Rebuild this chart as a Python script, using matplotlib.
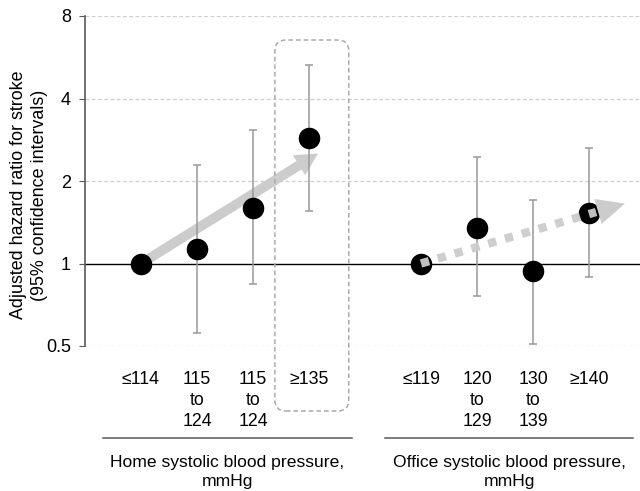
import matplotlib
matplotlib.use("Agg")
import matplotlib.pyplot as plt
from matplotlib.patches import FancyArrowPatch, FancyBboxPatch, Polygon
from matplotlib.transforms import IdentityTransform
from matplotlib.lines import Line2D

plt.rcParams['font.family'] = ['Liberation Sans', 'DejaVu Sans']

# Home systolic blood pressure categories
home_labels = ["≤114", "115\nto\n124", "115\nto\n124", "≥135"]
home_hr = [1.0, 1.13, 1.60, 2.86]
home_lo = [1.0, 0.56, 0.84, 1.55]
home_hi = [1.0, 2.28, 3.06, 5.32]

# Office systolic blood pressure categories
office_labels = ["≤119", "120\nto\n129", "130\nto\n139", "≥140"]
office_hr = [1.0, 1.35, 0.935, 1.53]
office_lo = [1.0, 0.76, 0.51, 0.89]
office_hi = [1.0, 2.44, 1.71, 2.63]

home_x = [0, 1, 2, 3]
office_x = [5, 6, 7, 8]

# Trend arrow end points (x, hazard ratio)
home_trend_end = (3.16, 2.52)
office_trend_end = (8.64, 1.655)

yticks = [0.5, 1, 2, 4, 8]
ytick_labels = ["0.5", "1", "2", "4", "8"]

W, H, DPI = 640, 491, 100
fig = plt.figure(figsize=(W / DPI, H / DPI), dpi=DPI)
ax = fig.add_axes([85 / W, 1 - 346 / H, 1 - 85 / W, (346 - 16) / H])

ax.set_yscale("log", base=2)
ax.set_ylim(0.5, 8)
ax.set_xlim(-1, 8.91)

for s in ["top", "right", "bottom"]:
    ax.spines[s].set_visible(False)
ax.spines["left"].set_color("#595959")
ax.spines["left"].set_linewidth(1.2)

ax.set_yticks(yticks)
ax.set_yticklabels(ytick_labels)
ax.yaxis.set_minor_locator(matplotlib.ticker.NullLocator())
ax.tick_params(axis="y", length=4, color="#595959", labelsize=13, pad=6)

for g in [0.5, 2, 4, 8]:
    ax.axhline(g, color="#cfcfcf", lw=0.9, ls=(0, (3, 2)), zorder=0)
ax.axhline(1, color="black", lw=1.0, zorder=1)

xs = home_x + office_x
ax.set_xticks(xs)
ax.set_xticklabels(home_labels + office_labels, fontsize=12.8, linespacing=1.32)
ax.tick_params(axis="x", length=0, pad=18)

# Home trend arrow (behind points)
home_arrow = FancyArrowPatch((home_x[0], home_hr[0]), home_trend_end,
                             arrowstyle="simple,head_length=1.6,head_width=1.7,tail_width=0.7",
                             mutation_scale=10, color="#cccccc", lw=0,
                             shrinkA=4, shrinkB=0, zorder=2)
ax.add_patch(home_arrow)

def draw_group(x, hr, lo, hi):
    yerr = [[h - l for h, l in zip(hr, lo)], [u - h for h, u in zip(hr, hi)]]
    ax.errorbar(x[1:], hr[1:], yerr=[yerr[0][1:], yerr[1][1:]], fmt="none",
                ecolor="#999999", elinewidth=1.1, capsize=2.6, capthick=1.1, zorder=3)
    ax.plot(x, hr, "o", color="black", ms=14.5, zorder=4)

draw_group(home_x, home_hr, home_lo, home_hi)
draw_group(office_x, office_hr, office_lo, office_hi)

# Office trend arrow: dotted shaft plus solid head (drawn over points)
fig.canvas.draw()
to_disp = ax.transData.transform
p0 = to_disp((office_x[0], office_hr[0]))
p1 = to_disp(office_trend_end)
vx, vy = p1[0] - p0[0], p1[1] - p0[1]
L = (vx ** 2 + vy ** 2) ** 0.5
ux, uy = vx / L, vy / L
head_len, head_half = 28, 13
base = (p1[0] - ux * head_len, p1[1] - uy * head_len)
shaft_end = (base[0] - ux * 2, base[1] - uy * 2)
shaft = Line2D([p0[0], shaft_end[0]], [p0[1], shaft_end[1]], transform=IdentityTransform(),
               color="#cccccc", lw=6.0, solid_capstyle="butt", dash_capstyle="butt",
               ls=(0, (1.0, 1.1)), zorder=5, alpha=0.95)
fig.add_artist(shaft)
head = Polygon([p1, (base[0] - uy * head_half, base[1] + ux * head_half),
                (base[0] + uy * head_half, base[1] - ux * head_half)],
               closed=True, transform=IdentityTransform(), color="#cccccc", lw=0, zorder=5)
fig.add_artist(head)

# Rounded dashed box around the highest home category
bx0 = to_disp((home_x[3] - 0.61, 1))[0]
bx1 = to_disp((home_x[3] + 0.71, 1))[0]
by1 = H - 40
by0 = H - 411
box = FancyBboxPatch((bx0, by0), bx1 - bx0, by1 - by0,
                     boxstyle="round,pad=0,rounding_size=11", transform=IdentityTransform(),
                     fill=False, ec="#aaaaaa", lw=1.1, ls=(0, (3, 2)), zorder=1)
fig.add_artist(box)

# Group brackets and titles
def group_caption(x0, x1, text):
    d0 = to_disp((x0, 1))[0]
    d1 = to_disp((x1, 1))[0]
    yline = H - 438
    fig.add_artist(Line2D([d0, d1], [yline, yline], transform=IdentityTransform(),
                          color="#595959", lw=1.1))
    fig.text((d0 + d1) / 2 / W, 1 - 472 / H, text, ha="center", va="center",
             fontsize=12.6, linespacing=1.32)

group_caption(home_x[0] - 0.68, home_x[3] + 0.77, "Home systolic blood pressure,\nmmHg")
group_caption(office_x[0] - 0.64, office_x[3] + 0.79, "Office systolic blood pressure,\nmmHg")

fig.text(29 / W, 1 - 195 / H, "Adjusted hazard ratio for stroke\n(95% confidence intervals)",
         rotation=90, ha="center", va="center", fontsize=12.9, linespacing=1.35)

fig.savefig("out.png", dpi=DPI)
